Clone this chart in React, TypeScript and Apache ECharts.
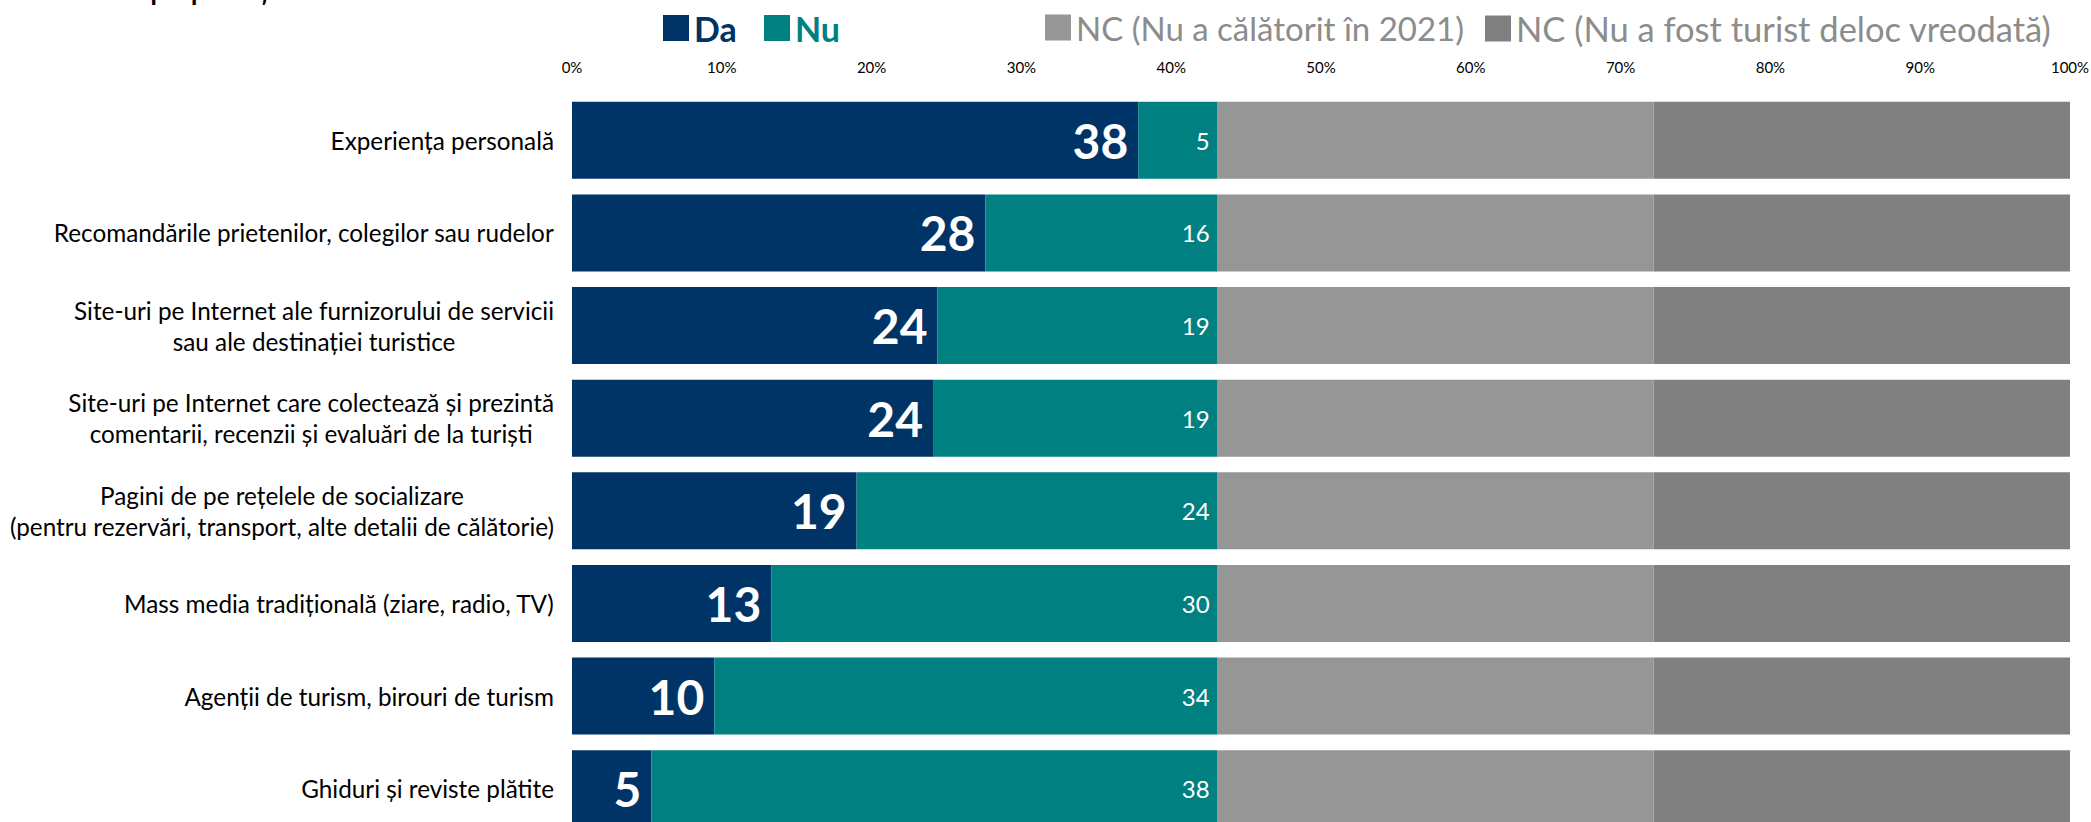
import React, { useEffect, useRef } from "react";
import * as echarts from "echarts";

const categories: string[] = [
  "Experiența personală",
  "Recomandările prietenilor, colegilor sau rudelor",
  "Site-uri pe Internet ale furnizorului de servicii\nsau ale destinației turistice",
  "Site-uri pe Internet care colectează și prezintă\ncomentarii, recenzii și evaluări de la turiști",
  "Pagini de pe rețelele de socializare\n(pentru rezervări, transport, alte detalii de călătorie)",
  "Mass media tradițională (ziare, radio, TV)",
  "Agenții de turism, birouri de turism",
  "Ghiduri și reviste plătite",
];

const seriesNames = [
  "Da",
  "Nu",
  "NC (Nu a călătorit în 2021)",
  "NC (Nu a fost turist deloc vreodată)",
];

const daValues = [37.8, 27.6, 24.4, 24.1, 19.0, 13.3, 9.5, 5.3];
const nuValues = [5.3, 15.5, 18.7, 19.0, 24.1, 29.8, 33.6, 37.8];
const nc2021Values = [29.1, 29.1, 29.1, 29.1, 29.1, 29.1, 29.1, 29.1];
const ncNeverValues = [27.8, 27.8, 27.8, 27.8, 27.8, 27.8, 27.8, 27.8];

const xTicks = [0, 10, 20, 30, 40, 50, 60, 70, 80, 90, 100];

const titleText = "din total populației";

const COLORS = ["#003366", "#008080", "#969696", "#808080"];
const FONT = "Lato, 'Open Sans', sans-serif";

export default function App() {
  const ref = useRef<HTMLDivElement>(null);

  useEffect(() => {
    if (!ref.current) return;
    const chart = echarts.init(ref.current, null, { renderer: "svg" });

    const legendPos = [663, 764, 1045, 1485];
    const legendFont = [34, 34, 33, 34.5];
    const legendText = [
      { color: "#003366", fontWeight: "bold" },
      { color: "#008080", fontWeight: "bold" },
      { color: "#8c8c8c", fontWeight: "normal" },
      { color: "#8c8c8c", fontWeight: "normal" },
    ];

    const option: any = {
      animation: false,
      backgroundColor: "#ffffff",
      textStyle: { fontFamily: FONT },
      graphic: [
        {
          type: "text",
          left: 10,
          top: -33,
          style: {
            text: titleText,
            font: `36px ${FONT}`,
            fill: "#000000",
          },
        },
      ],
      legend: seriesNames.map((name, i) => ({
        data: [name],
        left: legendPos[i],
        top: 11,
        padding: 0,
        icon: "rect",
        itemWidth: 26,
        itemHeight: 26,
        selectedMode: false,
        textStyle: {
          fontFamily: FONT,
          fontSize: legendFont[i],
          color: legendText[i].color,
          fontWeight: legendText[i].fontWeight,
        },
      })),
      grid: {
        left: 572,
        width: 1498,
        top: 94,
        height: 741,
        containLabel: false,
        outerBoundsMode: "none",
      },
      xAxis: {
        type: "value",
        position: "top",
        min: xTicks[0],
        max: xTicks[xTicks.length - 1],
        interval: 10,
        axisLine: { show: false },
        axisTick: { show: false },
        splitLine: { show: false },
        axisLabel: {
          formatter: "{value}%",
          fontFamily: FONT,
          fontSize: 15,
          color: "#000000",
          margin: 20,
        },
      },
      yAxis: {
        type: "category",
        inverse: true,
        data: categories,
        axisLine: { show: false },
        axisTick: { show: false },
        axisLabel: {
          align: "right",
          margin: 18,
          formatter: (v: string) =>
            v
              .split("\n")
              .map((l) => `{c|${l}}`)
              .join("\n"),
          rich: {
            c: {
              align: "center",
              fontFamily: FONT,
              fontSize: 24.3,
              lineHeight: 31,
              color: "#000000",
            },
          },
        },
      },
      series: [
        {
          name: seriesNames[0],
          type: "bar",
          stack: "total",
          barCategoryGap: "17%",
          data: daValues,
          itemStyle: { color: COLORS[0] },
          label: {
            show: true,
            position: "insideRight",
            distance: 10,
            formatter: (p: any) => String(Math.round(p.value)),
            color: "#ffffff",
            fontFamily: FONT,
            fontSize: 48,
            fontWeight: "bold",
          },
        },
        {
          name: seriesNames[1],
          type: "bar",
          stack: "total",
          data: nuValues,
          itemStyle: { color: COLORS[1] },
          label: {
            show: true,
            position: "insideRight",
            distance: 8,
            formatter: (p: any) => String(Math.round(p.value)),
            color: "#ffffff",
            fontFamily: FONT,
            fontSize: 24,
          },
        },
        {
          name: seriesNames[2],
          type: "bar",
          stack: "total",
          data: nc2021Values,
          itemStyle: { color: COLORS[2] },
        },
        {
          name: seriesNames[3],
          type: "bar",
          stack: "total",
          data: ncNeverValues,
          itemStyle: { color: COLORS[3] },
        },
      ],
    };

    chart.setOption(option);
    return () => {
      chart.dispose();
    };
  }, []);

  return (
    <div
      ref={ref}
      style={{
        position: "fixed",
        left: 0,
        top: 0,
        width: 2091,
        height: 822,
        background: "#ffffff",
      }}
    />
  );
}
